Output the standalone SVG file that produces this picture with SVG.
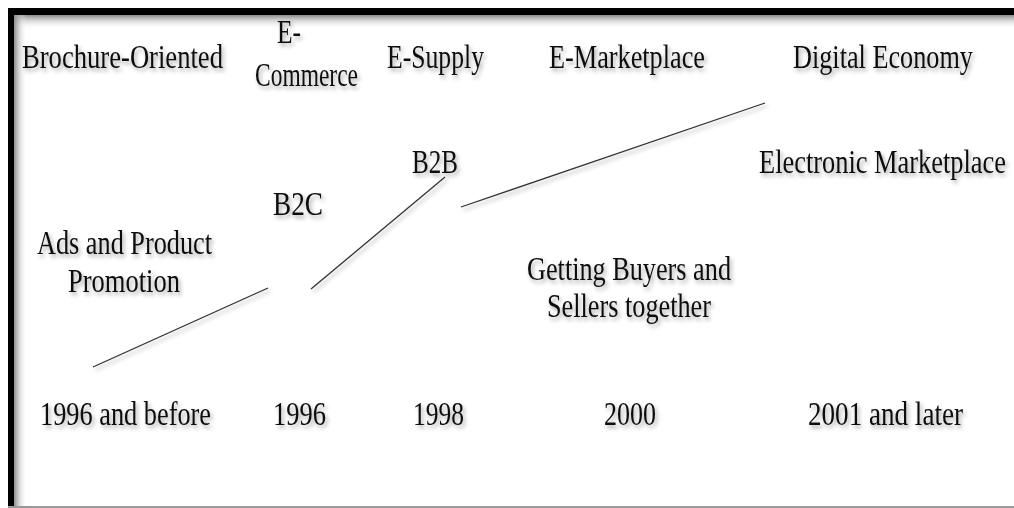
<svg xmlns="http://www.w3.org/2000/svg" width="1014" height="508" viewBox="0 0 1014 508">
<defs>
<filter id="sh" x="-10%" y="-30%" width="130%" height="180%">
<feDropShadow dx="2" dy="3" stdDeviation="2" flood-color="#000" flood-opacity="0.35"/>
</filter>
<linearGradient id="gTop" x1="0" y1="0" x2="0" y2="1">
<stop offset="0" stop-color="#8a8a8a"/>
<stop offset="1" stop-color="#fff" stop-opacity="0"/>
</linearGradient>
<linearGradient id="gLeft" x1="0" y1="0" x2="1" y2="0">
<stop offset="0" stop-color="#8a8a8a"/>
<stop offset="1" stop-color="#fff" stop-opacity="0"/>
</linearGradient>
</defs>
<style>
text{font-family:"Liberation Serif","Times New Roman",serif;font-size:33px;fill:#111;}
.ln{stroke:#333;stroke-width:1.3;fill:none;}
</style>
<rect x="0" y="0" width="1014" height="508" fill="#fff"/>
<g id="frame">
<rect x="14" y="15" width="1000" height="14" fill="url(#gTop)"/>
<rect x="14" y="15" width="13" height="493" fill="url(#gLeft)"/>
<rect x="8" y="8" width="1006" height="7" fill="#000"/>
<rect x="8" y="8" width="6" height="500" fill="#000"/>
<rect x="8" y="506" width="1006" height="2" fill="#999"/>
</g>
<g id="connectors" filter="url(#sh)">
<line class="ln" x1="93" y1="367" x2="268" y2="288"/>
<line class="ln" x1="311" y1="289" x2="445" y2="177"/>
<line class="ln" x1="461" y1="207" x2="765" y2="103"/>
</g>
<g filter="url(#sh)">
<g id="brochure"><text x="22" y="68" textLength="201" lengthAdjust="spacingAndGlyphs">Brochure-Oriented</text></g>
<g id="ecommerce"><text x="277" y="43" textLength="24" lengthAdjust="spacingAndGlyphs">E-</text><text x="255" y="86" textLength="103" lengthAdjust="spacingAndGlyphs">Commerce</text></g>
<g id="esupply"><text x="387" y="68" textLength="97" lengthAdjust="spacingAndGlyphs">E-Supply</text></g>
<g id="emarketplace"><text x="549" y="68" textLength="156" lengthAdjust="spacingAndGlyphs">E-Marketplace</text></g>
<g id="digital"><text x="793" y="68" textLength="180" lengthAdjust="spacingAndGlyphs">Digital Economy</text></g>
<g id="b2b"><text x="412" y="173" textLength="46" lengthAdjust="spacingAndGlyphs">B2B</text></g>
<g id="b2c"><text x="273" y="215" textLength="50" lengthAdjust="spacingAndGlyphs">B2C</text></g>
<g id="electronic"><text x="759" y="173" textLength="247" lengthAdjust="spacingAndGlyphs">Electronic Marketplace</text></g>
<g id="ads"><text x="37" y="254" textLength="175" lengthAdjust="spacingAndGlyphs">Ads and Product</text><text x="68" y="292" textLength="112" lengthAdjust="spacingAndGlyphs">Promotion</text></g>
<g id="getting"><text x="527" y="280" textLength="204" lengthAdjust="spacingAndGlyphs">Getting Buyers and</text><text x="547" y="317" textLength="164" lengthAdjust="spacingAndGlyphs">Sellers together</text></g>
<g id="y1996b"><text x="40" y="425" textLength="171" lengthAdjust="spacingAndGlyphs">1996 and before</text></g>
<g id="y1996"><text x="273" y="425" textLength="53" lengthAdjust="spacingAndGlyphs">1996</text></g>
<g id="y1998"><text x="413" y="425" textLength="51" lengthAdjust="spacingAndGlyphs">1998</text></g>
<g id="y2000"><text x="604" y="425" textLength="52" lengthAdjust="spacingAndGlyphs">2000</text></g>
<g id="y2001"><text x="808" y="425" textLength="155" lengthAdjust="spacingAndGlyphs">2001 and later</text></g>
</g>
</svg>
